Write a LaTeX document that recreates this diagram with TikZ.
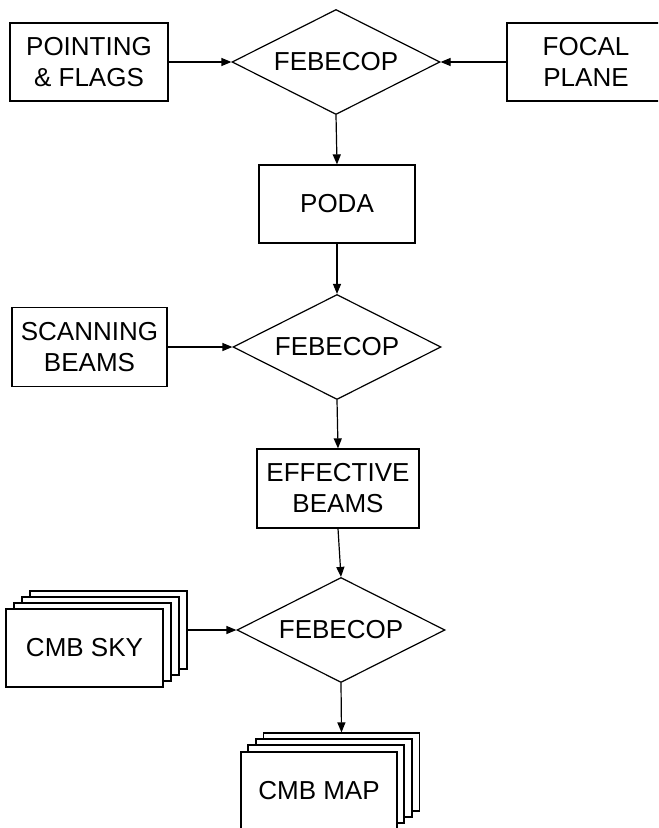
\documentclass[tikz,border=0pt]{standalone}
\usepackage{fontspec}
\setmainfont{Liberation Sans}
\usetikzlibrary{shapes.geometric,arrows.meta}
\begin{document}
\begin{tikzpicture}[x=0.75pt,y=-0.75pt,
  every node/.style={font=\fontsize{19.5}{23.3}\selectfont, align=center, line width=0.9pt},
  box/.style={draw, fill=white, inner sep=0pt, minimum width=156*0.75pt, minimum height=78*0.75pt},
  dia/.style={draw, diamond, aspect=2, inner sep=0pt, minimum width=208*0.75pt, minimum height=105*0.75pt},
  arr/.style={line width=0.9pt, -{Triangle[length=7.5pt,width=6pt]}}]
\useasboundingbox (0,0) rectangle (658,828);
\clip (0,0) rectangle (658,828);
% diamonds
\node[dia] (d1) at (336,62) {FEBECOP};
\node[dia] (d2) at (337,347) {FEBECOP};
\node[dia] (d3) at (341,630) {FEBECOP};
% boxes
\node[box, minimum width=158*0.75pt] (point) at (89,62) {POINTING\\\& FLAGS};
\node[box, minimum width=158*0.75pt] (focal) at (586,62) {FOCAL\\PLANE};
\node[box] (poda) at (337,204) {PODA};
\node[box, minimum width=155*0.75pt, minimum height=79*0.75pt] (scan) at (89.5,347) {SCANNING\\BEAMS};
\node[box, minimum width=162*0.75pt, minimum height=79*0.75pt] (eff) at (338,488.5) {EFFECTIVE\\BEAMS};
% CMB SKY stack
\node[box, minimum width=157*0.75pt] (sky4) at (108.5,630) {};
\node[box, minimum width=157*0.75pt] (sky3) at (100.5,636) {};
\node[box, minimum width=157*0.75pt] (sky2) at (92.5,642) {};
\node[box, minimum width=157*0.75pt] (sky) at (84.5,648) {CMB SKY};
% CMB MAP stack
\node[box] (map4) at (341.5,772) {};
\node[box] (map3) at (334,778) {};
\node[box] (map2) at (326,784) {};
\node[box] (map) at (319,791) {CMB MAP};
% connectors
\draw[arr] (point.east) -- (d1.west);
\draw[arr] (focal.west) -- (d1.east);
\draw[arr] (d1.south) -- (poda.north);
\draw[arr] (poda.south) -- (d2.north);
\draw[arr] (scan.east) -- (d2.west);
\draw[arr] (d2.south) -- (eff.north);
\draw[arr] (eff.south) -- (d3.north);
\draw[arr] (sky4.east) -- (d3.west);
\draw[arr] (d3.south) -- (map4.north);
\end{tikzpicture}
\end{document}
